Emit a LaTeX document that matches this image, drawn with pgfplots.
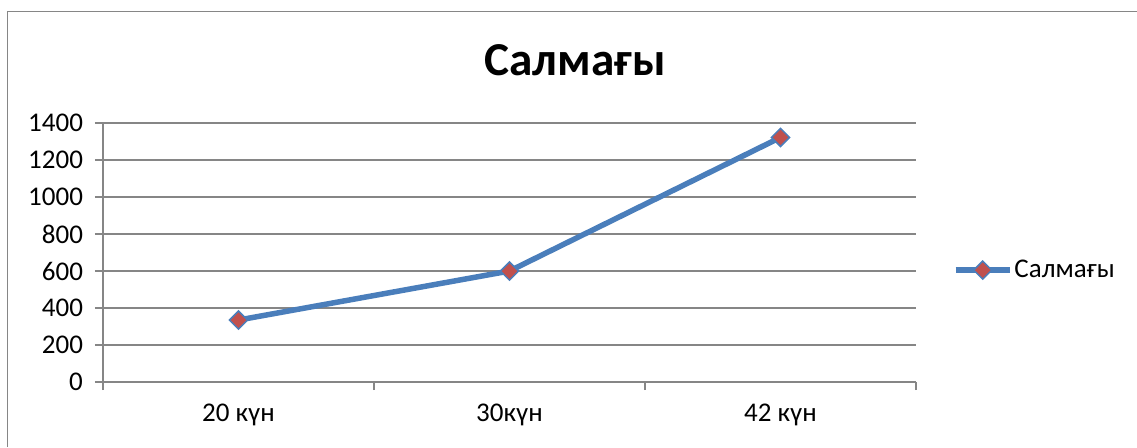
\documentclass[border=0pt]{standalone}
\usepackage{fontspec}
\setmainfont{Carlito}
\usepackage{pgfplots}
\pgfplotsset{compat=1.18}
\definecolor{lineblue}{RGB}{74,126,187}
\definecolor{markred}{RGB}{192,80,77}
\definecolor{gridgray}{RGB}{134,134,134}
\begin{document}
\begin{tikzpicture}[x=1pt,y=1pt]
\useasboundingbox (0,0) rectangle (568.5,-223.5);
\draw[gridgray, line width=0.6pt] (3.75,-223.5) -- (3.75,-5.75) -- (568.5,-5.75);
\node[anchor=base, font=\fontsize{23.6}{28}\selectfont\bfseries, inner sep=0pt] at (287.5,-37.5) {Салмағы};
\begin{axis}[
  at={(51.5pt,-191pt)}, anchor=south west,
  scale only axis, width=406.5pt, height=129.5pt,
  xmin=0.5, xmax=3.5, ymin=0, ymax=1400,
  xtick={0.5,1.5,2.5,3.5}, x tick label as interval,
  xticklabels={20 күн,30күн,42 күн},
  ytick={0,200,...,1400},
  axis x line*=bottom, axis y line*=left,
  axis line style={gridgray, line width=0.75pt, -},
  ymajorgrids, grid style={gridgray, line width=0.75pt},
  tick style={gridgray, line width=0.75pt},
  tick align=outside, major tick length=4pt,
  ticklabel style={font=\fontsize{13.5}{16}\selectfont},
  yticklabel style={xshift=-2.5pt},
  xticklabel style={yshift=-3.5pt},
  /pgf/number format/assume math mode=true,
  /pgf/number format/1000 sep={},
  legend style={at={(1.045,0.432)}, anchor=west, draw=none, fill=none,
    font=\fontsize{13.5}{16}\selectfont, inner sep=0pt, nodes={inner sep=1pt}},
  legend cell align=left,
  legend image code/.code={\draw[#1, mark repeat=2, mark phase=2] plot coordinates {(0pt,0pt) (13.5pt,0pt) (27pt,0pt)};},
]
\addplot[lineblue, line width=2.75pt, mark=square*, mark size=3.2pt,
  mark options={rotate=45, fill=markred, draw=lineblue, line width=0.75pt}]
  coordinates {(1,335) (2,600) (3,1322)};
\addlegendentry{Салмағы}
\end{axis}
\end{tikzpicture}
\end{document}
